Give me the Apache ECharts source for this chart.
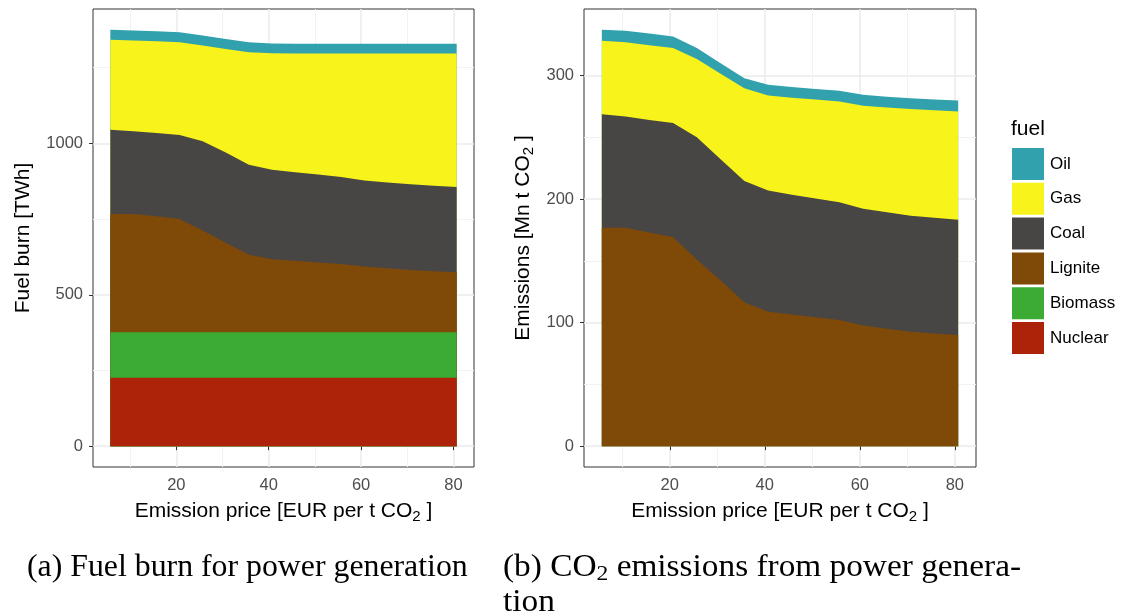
<!DOCTYPE html>
<html>
<head>
<meta charset="utf-8">
<script src="https://cdn.jsdelivr.net/npm/echarts@6/dist/echarts.min.js"></script>
<style>
html,body{margin:0;padding:0;background:#fff;}
#chart{width:1121px;height:614px;}
</style>
</head>
<body>
<div id="chart"></div>
<script>
// ---------- data ----------
const price = [5.7, 10.7, 15.7, 20.7, 25.7, 30.7, 35.7, 40.7, 45.7, 50.7, 55.7, 60.7, 65.7, 70.7, 75.7, 80.7];
const fuels = ['Oil', 'Gas', 'Coal', 'Lignite', 'Biomass', 'Nuclear'];

// (a) fuel burn [TWh] per fuel
const burnNuclear = [226, 226, 226, 226, 226, 226, 226, 226, 226, 226, 226, 226, 226, 226, 226, 226];
const burnBiomass = [150, 150, 150, 150, 150, 150, 150, 150, 150, 150, 150, 150, 150, 150, 150, 150];
const burnLignite = [391, 391, 383, 374, 336, 296, 256, 241, 236, 231, 226, 217, 212, 206, 202, 198];
const burnCoal    = [278, 273, 275, 278, 295, 298, 297, 296, 293, 290, 287, 284, 283, 283, 282, 282];
const burnGas     = [297, 300, 303, 306, 316, 342, 372, 385, 392, 400, 408, 420, 426, 432, 437, 441];
const burnOil     = [33, 33, 33, 33, 33, 33, 33, 32, 32, 32, 32, 32, 32, 32, 32, 32];

// (b) emissions [Mn t CO2] per fuel
const emisLignite = [176.7, 176.7, 173, 169.1, 151, 134, 116.5, 108.9, 106.6, 104.4, 102.2, 97.6, 95.1, 92.7, 91.3, 90];
const emisCoal    = [92, 90.1, 91, 92.4, 99.1, 98.3, 98.2, 98, 96.9, 96.1, 95.3, 94.5, 94.2, 93.9, 93.6, 93.2];
const emisGas     = [59.4, 60.2, 60.6, 60.7, 63.2, 69.2, 75.1, 76.9, 78.5, 80, 81.4, 83.4, 84.9, 86.4, 87.1, 87.7];
const emisOil     = [8.9, 9.2, 9.5, 9.4, 8.9, 8.5, 8.1, 8.7, 8.8, 8.7, 8.7, 8.9, 8.7, 8.7, 8.7, 8.9];

// tick values
const xTicks = [20, 40, 60, 80];
const xMinorTicks = [10, 30, 50, 70];
const burnTicks = [0, 500, 1000];
const burnMinorTicks = [250, 750, 1250];
const emisTicks = [0, 100, 200, 300];
const emisMinorTicks = [50, 150, 250];

// ---------- styling ----------
const colors = {
  Oil: '#31A2AD', Gas: '#F7F31B', Coal: '#484644',
  Lignite: '#7F4A08', Biomass: '#3BAB33', Nuclear: '#AD230A'
};
const SANS = "'Liberation Sans', Arial, sans-serif";
const SERIF = "'Liberation Serif', 'Times New Roman', serif";

function expanded(vals) {
  const lo = Math.min(...vals), hi = Math.max(...vals);
  const pad = (hi - lo) * 0.05;
  return [lo - pad, hi + pad];
}
// cumulative stack (bottom -> top); each layer drawn from 0 to its cumulative top,
// upper layers drawn behind lower ones, which gives the stacked-area picture
function cumulative(layers) {
  const out = [];
  let run = price.map(() => 0);
  layers.forEach(a => { run = run.map((v, i) => v + a[i]); out.push(run.slice()); });
  return out;
}
const burnLayers = ['Nuclear', 'Biomass', 'Lignite', 'Coal', 'Gas', 'Oil'];
const burnCum = cumulative([burnNuclear, burnBiomass, burnLignite, burnCoal, burnGas, burnOil]);
const emisLayers = ['Lignite', 'Coal', 'Gas', 'Oil'];
const emisCum = cumulative([emisLignite, emisCoal, emisGas, emisOil]);

const xr = expanded(price);
const yrA = expanded([0].concat(burnCum[burnCum.length - 1]));
const yrB = expanded([0].concat(emisCum[emisCum.length - 1]));

const titleRich = {
  t: { fontSize: 21, fontFamily: SANS, color: '#000' },
  s: { fontSize: 15, fontFamily: SANS, color: '#000', padding: [11, 0, 0, 0] }
};
const plain = v => String(Math.round(v));

function majorX(g) {
  return {
    type: 'value', gridIndex: g, min: xr[0], max: xr[1],
    axisLine: { show: false },
    axisTick: { show: true, customValues: xTicks, length: 4, lineStyle: { color: '#333', width: 1 } },
    axisLabel: { customValues: xTicks, formatter: plain, color: '#4D4D4D', fontSize: 16.5, fontFamily: SANS, margin: 10 },
    splitLine: { show: true, lineStyle: { color: '#EBEBEB', width: 1.5 } },
    name: '{t|Emission price [EUR per t CO}{s|2}{t| ]}',
    nameLocation: 'middle', nameGap: 31,
    nameTextStyle: { fontSize: 21, fontFamily: SANS, color: '#000', rich: titleRich }
  };
}
function minorX(g) {
  return {
    type: 'value', gridIndex: g, min: xr[0], max: xr[1],
    axisLine: { show: false },
    axisTick: { show: false, customValues: xMinorTicks },
    axisLabel: { show: false, customValues: xMinorTicks },
    splitLine: { show: true, lineStyle: { color: '#F2F2F2', width: 1 } }
  };
}
function majorY(g, r, ticks, name, gap) {
  return {
    type: 'value', gridIndex: g, min: r[0], max: r[1],
    axisLine: { show: false },
    axisTick: { show: true, customValues: ticks, length: 4, lineStyle: { color: '#333', width: 1 } },
    axisLabel: { customValues: ticks, formatter: plain, color: '#4D4D4D', fontSize: 16.5, fontFamily: SANS, margin: 10 },
    splitLine: { show: true, lineStyle: { color: '#EBEBEB', width: 1.5 } },
    name: name, nameLocation: 'middle', nameGap: gap, nameRotate: 90,
    nameTextStyle: { fontSize: 21, fontFamily: SANS, color: '#000', rich: titleRich }
  };
}
function minorY(g, r, ticks) {
  return {
    type: 'value', gridIndex: g, min: r[0], max: r[1],
    axisLine: { show: false },
    axisTick: { show: false, customValues: ticks },
    axisLabel: { show: false, customValues: ticks },
    splitLine: { show: true, lineStyle: { color: '#F2F2F2', width: 1 } }
  };
}
function area(name, vals, g) {
  return {
    type: 'line', name: name, xAxisIndex: g * 2, yAxisIndex: g * 2,
    data: price.map((p, i) => [p, vals[i]]),
    symbol: 'none', showSymbol: false, smooth: false,
    lineStyle: { width: 0, color: colors[name] },
    itemStyle: { color: colors[name] },
    areaStyle: { color: colors[name], opacity: 1, origin: 0 },
    emphasis: { disabled: true }, silent: true
  };
}
const series = [];
for (let k = burnLayers.length - 1; k >= 0; k--) series.push(area(burnLayers[k], burnCum[k], 0));
for (let k = emisLayers.length - 1; k >= 0; k--) series.push(area(emisLayers[k], emisCum[k], 1));

const option = {
  animation: false,
  backgroundColor: '#fff',
  grid: [
    { left: 93, top: 9, width: 381, height: 458, show: true, borderColor: '#333', borderWidth: 1, backgroundColor: '#fff' },
    { left: 584, top: 9, width: 392, height: 458, show: true, borderColor: '#333', borderWidth: 1, backgroundColor: '#fff' }
  ],
  xAxis: [majorX(0), minorX(0), majorX(1), minorX(1)],
  yAxis: [
    majorY(0, yrA, burnTicks, '{t|Fuel burn [TWh]}', 59), minorY(0, yrA, burnMinorTicks),
    majorY(1, yrB, emisTicks, '{t|Emissions [Mn t CO}{s|2}{t| ]}', 48), minorY(1, yrB, emisMinorTicks)
  ],
  legend: {
    data: fuels, orient: 'vertical', left: 1012, top: 148, padding: 0,
    icon: 'rect', itemWidth: 32, itemHeight: 32, itemGap: 2.8,
    itemStyle: { borderWidth: 0 },
    textStyle: { fontSize: 17, fontFamily: SANS, color: '#000', padding: [0, 0, 0, 1] },
    selectedMode: false
  },
  graphic: [
    { type: 'text', left: 1011, top: 119, style: { text: 'fuel', fontSize: 21, fontFamily: SANS, fill: '#000' } },
    { type: 'text', left: 27, top: 552, scaleX: 1.026, style: { text: '(a) Fuel burn for power generation', fontSize: 31, fontFamily: SERIF, fill: '#000' } },
    { type: 'text', left: 503, top: 552, scaleX: 1.075, style: {
        text: '{r|(b) CO}{s|2}{r| emissions from power genera-}',
        rich: {
          r: { fontSize: 31, fontFamily: SERIF, fill: '#000' },
          s: { fontSize: 22, fontFamily: SERIF, fill: '#000', padding: [14, 0, 0, 0] }
        }
      } },
    { type: 'text', left: 503, top: 587, scaleX: 1.075, style: { text: 'tion', fontSize: 31, fontFamily: SERIF, fill: '#000' } }
  ],
  series: series
};

const chart = echarts.init(document.getElementById('chart'), null, { renderer: 'canvas' });
chart.setOption(option);
</script>
</body>
</html>
